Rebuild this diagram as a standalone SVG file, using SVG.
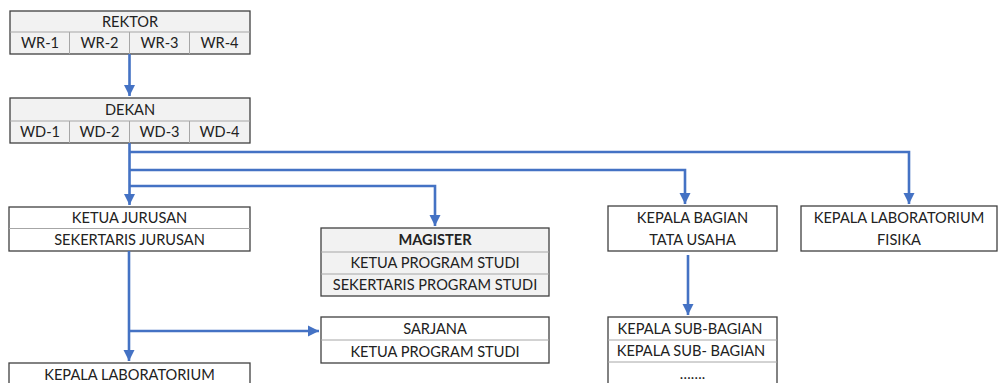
<svg xmlns="http://www.w3.org/2000/svg" width="998" height="383" viewBox="0 0 998 383">
  <style>
    .box { stroke: #404040; stroke-width: 1.3; }
    .g { fill: #f2f2f2; }
    .w { fill: #ffffff; }
    .div { stroke: #a6a6a6; stroke-width: 1; fill: none; }
    text { font-family: Lato, "Open Sans", "Liberation Sans", sans-serif; font-size: 14.6px; fill: #222222; text-anchor: middle; }
    .b { font-weight: bold; }
    .c { fill: none; stroke: #4472c4; stroke-width: 2.6; }
  </style>
  <defs>
    <marker id="ah" viewBox="0 0 10 10" refX="10" refY="5" markerWidth="4.4" markerHeight="4.4" markerUnits="strokeWidth" orient="auto">
      <path d="M0,0 L10,5 L0,10 z" fill="#4472c4"/>
    </marker>
  </defs>

  <rect width="998" height="383" fill="#ffffff"/>

  <g id="rektor">
    <rect class="box g" x="10" y="11" width="240" height="43"/>
    <line class="div" x1="10" y1="32" x2="250" y2="32"/>
    <line class="div" x1="69.5" y1="32" x2="69.5" y2="54"/>
    <line class="div" x1="129.5" y1="32" x2="129.5" y2="54"/>
    <line class="div" x1="189.5" y1="32" x2="189.5" y2="54"/>
    <text x="130" y="27">REKTOR</text>
    <text x="40" y="48">WR-1</text>
    <text x="99.5" y="48">WR-2</text>
    <text x="159.5" y="48">WR-3</text>
    <text x="219.5" y="48">WR-4</text>
  </g>

  <g id="dekan">
    <rect class="box g" x="10" y="98" width="240" height="45"/>
    <line class="div" x1="10" y1="121" x2="250" y2="121"/>
    <line class="div" x1="69.5" y1="121" x2="69.5" y2="143"/>
    <line class="div" x1="129.5" y1="121" x2="129.5" y2="143"/>
    <line class="div" x1="189.5" y1="121" x2="189.5" y2="143"/>
    <text x="130" y="115">DEKAN</text>
    <text x="40" y="137">WD-1</text>
    <text x="99.5" y="137">WD-2</text>
    <text x="159.5" y="137">WD-3</text>
    <text x="219.5" y="137">WD-4</text>
  </g>

  <g id="ketua-jurusan">
    <rect class="box w" x="9" y="207" width="241" height="44"/>
    <line class="div" x1="9" y1="228.5" x2="250" y2="228.5"/>
    <text x="129.5" y="223">KETUA JURUSAN</text>
    <text x="129.5" y="245">SEKERTARIS JURUSAN</text>
  </g>

  <g id="magister">
    <rect class="box g" x="321" y="228" width="228" height="68"/>
    <line class="div" x1="321" y1="252" x2="549" y2="252"/>
    <line class="div" x1="321" y1="274" x2="549" y2="274"/>
    <text class="b" x="435" y="245">MAGISTER</text>
    <text x="435" y="268">KETUA PROGRAM STUDI</text>
    <text x="435" y="290">SEKERTARIS PROGRAM STUDI</text>
  </g>

  <g id="sarjana">
    <rect class="box w" x="321" y="317" width="228" height="46"/>
    <line class="div" x1="321" y1="340" x2="549" y2="340"/>
    <text x="435" y="334">SARJANA</text>
    <text x="435" y="357">KETUA PROGRAM STUDI</text>
  </g>

  <g id="kepala-laboratorium">
    <rect class="box w" x="9" y="363" width="241" height="30"/>
    <text x="129.5" y="380">KEPALA LABORATORIUM</text>
  </g>

  <g id="kepala-bagian">
    <rect class="box w" x="608" y="206" width="169" height="45"/>
    <text x="692.5" y="223">KEPALA BAGIAN</text>
    <text x="692.5" y="245">TATA USAHA</text>
  </g>

  <g id="lab-fisika">
    <rect class="box w" x="801" y="206" width="196" height="45"/>
    <text x="899" y="223">KEPALA LABORATORIUM</text>
    <text x="899" y="245">FISIKA</text>
  </g>

  <g id="sub-bagian">
    <rect class="box w" x="608" y="317" width="169" height="76"/>
    <line class="div" x1="608" y1="340" x2="777" y2="340"/>
    <line class="div" x1="608" y1="362" x2="777" y2="362"/>
    <text x="690" y="334">KEPALA SUB-BAGIAN</text>
    <text x="691" y="356">KEPALA SUB- BAGIAN</text>
    <text x="692.5" y="379">…….</text>
  </g>

  <g id="connectors">
    <path class="c" d="M129.5,54 V96" marker-end="url(#ah)"/>
    <path class="c" d="M129.5,143 V205" marker-end="url(#ah)"/>
    <path class="c" d="M129.5,152 H909 V204" marker-end="url(#ah)"/>
    <path class="c" d="M129.5,170 H685 V204" marker-end="url(#ah)"/>
    <path class="c" d="M129.5,186 H435 V226" marker-end="url(#ah)"/>
    <path class="c" d="M129,251 V361" marker-end="url(#ah)"/>
    <path class="c" d="M129,331 H319" marker-end="url(#ah)"/>
    <path class="c" d="M688,255 V315" marker-end="url(#ah)"/>
  </g>
</svg>
